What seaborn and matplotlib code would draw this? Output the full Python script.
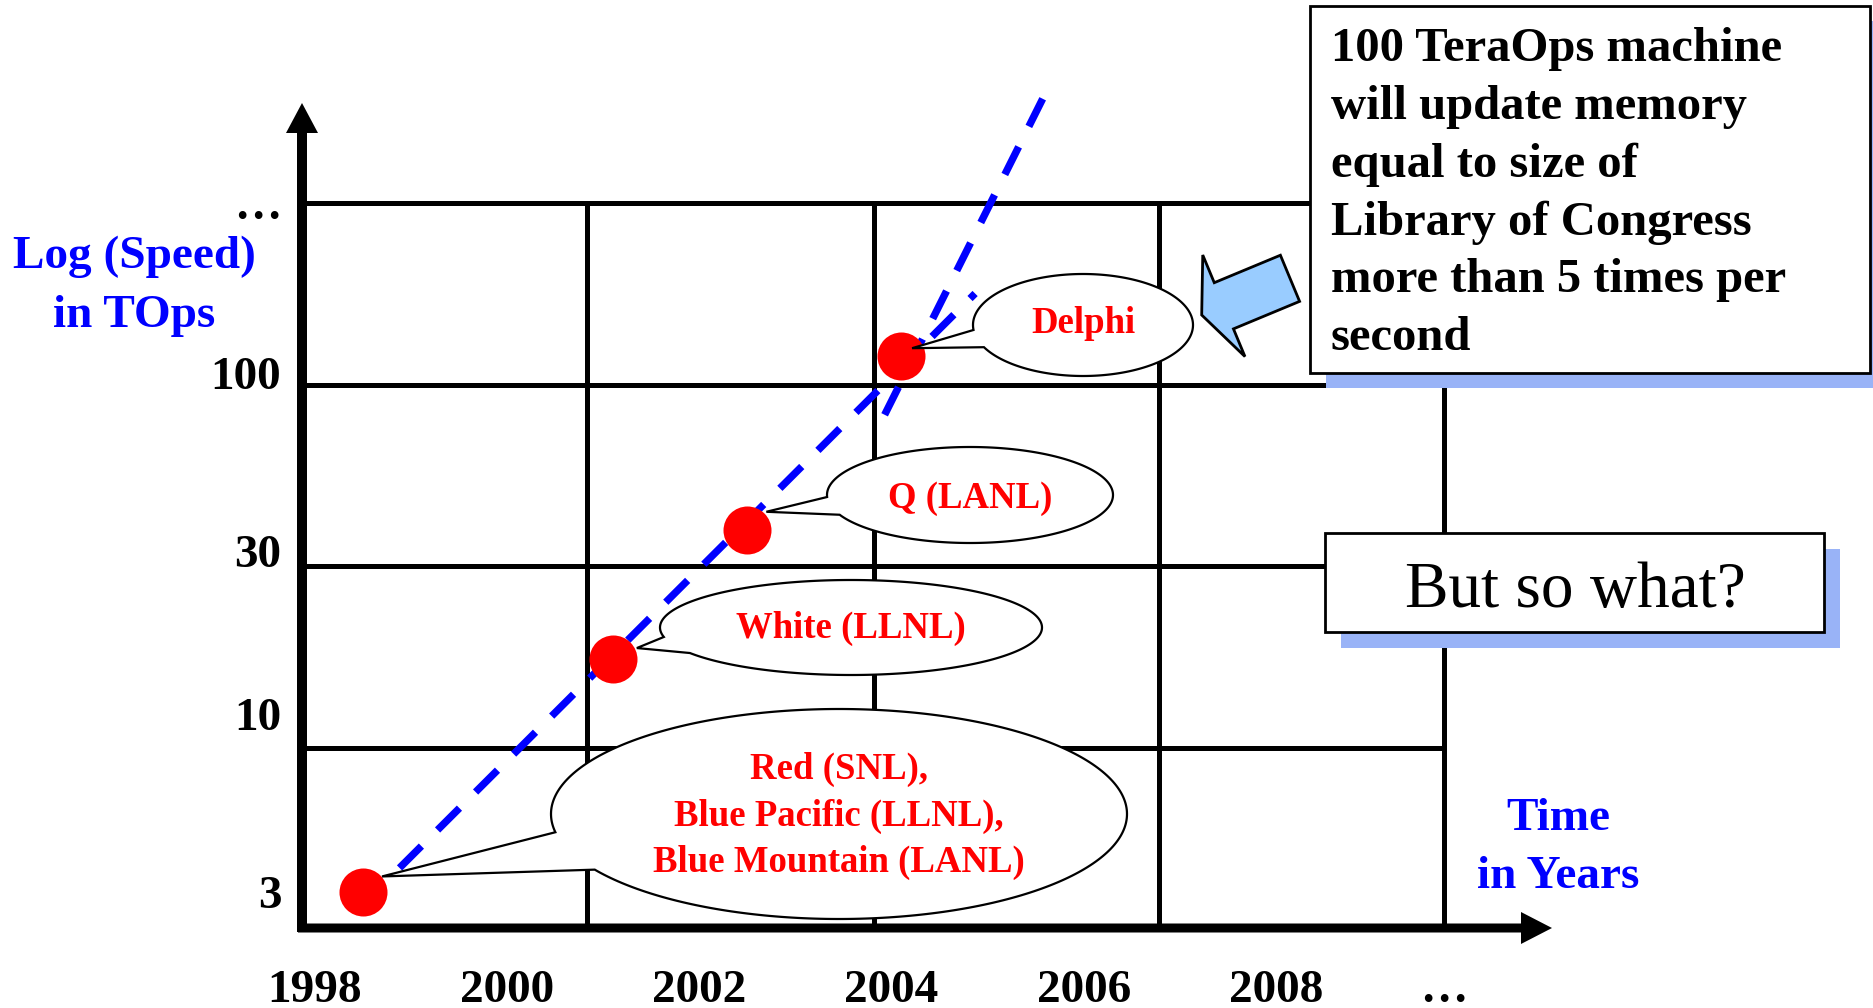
import numpy as np
import seaborn as sns
import matplotlib.pyplot as plt
from matplotlib import patches
from matplotlib.ticker import FixedLocator, NullFormatter

# machines: year vs speed (TOps)
machines = ["Red (SNL),\nBlue Pacific (LLNL),\nBlue Mountain (LANL)",
            "White (LLNL)", "Q (LANL)", "Delphi"]
years = [1998.5, 2001.1, 2002.5, 2004.1]
tops = [3.0, 14.5, 34.7, 112]

# dashed trend lines
trend_a_years = [1998.88, 2004.87]
trend_a_tops = [3.54, 171]
trend_b_years = [2003.86, 2005.58]
trend_b_tops = [69, 642]

year_ticks = [1998, 2000, 2002, 2004, 2006, 2008, 2009.75]
year_labels = ["1998", "2000", "2002", "2004", "2006", "2008", "…"]
speed_ticks = [3, 10, 30, 100, 315]
speed_labels = ["3", "10", "30", "100", "…"]

# cell borders of the hand drawn grid
grid_years = [2000.83, 2003.82, 2006.78]
grid_speeds = [7.94, 27.1, 92.2]

note_text = ("100 TeraOps machine\nwill update memory\nequal to size of\n"
             "Library of Congress\nmore than 5 times per\nsecond")

sns.set_theme(style="white")
plt.rcParams["font.family"] = ["Liberation Serif", "DejaVu Serif"]
plt.rcParams["text.color"] = "black"
plt.rcParams["xtick.color"] = "black"
plt.rcParams["ytick.color"] = "black"

W, H = 1874, 1008
fig = plt.figure(figsize=(W / 100, H / 100), dpi=100)
fig.patch.set_facecolor("white")
ax = fig.add_axes([302 / W, 80 / H, 1142 / W, 725 / H])

sns.lineplot(x=trend_a_years, y=trend_a_tops, ax=ax, color="#0000ff", lw=5.3,
             linestyle=(0, (4.2, 3.1)), zorder=3)
sns.lineplot(x=trend_b_years, y=trend_b_tops, ax=ax, color="#0000ff", lw=5.3,
             linestyle=(5.3, (4.2, 3.1)), zorder=3)
for ln in ax.lines:
    ln.set_clip_on(False)
    ln.set_dash_capstyle("butt")
sns.scatterplot(x=years, y=tops, ax=ax, s=1195, color="#ff0000", linewidth=0,
                zorder=5)

ax.set_yscale("log")
ax.set_xlim(1997.865, 2009.75)
ax.set_ylim(2.36, 312)

ax.set_xticks(year_ticks, labels=year_labels, fontsize=34, fontweight="bold",
              color="black")
ax.set_yticks(speed_ticks, labels=speed_labels, fontsize=34, fontweight="bold",
              color="black")
ax.xaxis.set_minor_locator(FixedLocator(grid_years))
ax.yaxis.set_minor_locator(FixedLocator(grid_speeds))
ax.xaxis.set_minor_formatter(NullFormatter())
ax.yaxis.set_minor_formatter(NullFormatter())
ax.tick_params(axis="both", which="both", length=0)
ax.tick_params(axis="x", pad=30)
ax.tick_params(axis="y", pad=15)
ax.grid(False, which="major")
ax.grid(True, which="minor", color="black", lw=3.6)

for side in ["top", "right"]:
    ax.spines[side].set_color("black")
    ax.spines[side].set_linewidth(3.6)
for side in ["left", "bottom"]:
    ax.spines[side].set_visible(False)

# baseline anchors refer to the last line of a multi-line text
ax.set_ylabel("Log (Speed)\nin TOps", rotation=0, color="#0000ff", fontsize=34,
              fontweight="bold", ha="center", va="baseline", linespacing=1.52)
ax.yaxis.set_label_coords(-0.147, (928 - 310) / 725)
ax.set_xlabel("Time\nin Years", color="#0000ff", fontsize=34, fontweight="bold",
              ha="center", va="baseline", linespacing=1.51)
ax.xaxis.set_label_coords(1.0998, (928 - 888) / 725)

# overlay in picture pixels (y down) for the slide decorations
ov = fig.add_axes([0, 0, 1, 1], zorder=10)
ov.set_xlim(0, W)
ov.set_ylim(H, 0)
ov.axis("off")
ov.patch.set_alpha(0)

# axis arrows
ov.add_patch(patches.FancyArrow(302, 932, 0, 103 - 932, width=10, head_width=32,
                                head_length=30, length_includes_head=True,
                                color="black", lw=0))
ov.add_patch(patches.FancyArrow(298, 928, 1552 - 298, 0, width=9, head_width=32,
                                head_length=31, length_includes_head=True,
                                color="black", lw=0))

# speech bubbles: centre, half axes, tail angles, tip offset from dot, last baseline
bubbles = [
    dict(c=(839, 814), a=288, b=105, t=(170, 148), off=(19, -16), base=872),
    dict(c=(851, 627.5), a=191, b=47.5, t=(168.5, 147.5), off=(24, -11), base=638),
    dict(c=(970, 495), a=143, b=48, t=(177.6, 155.7), off=(19, -18), base=508),
    dict(c=(1083, 325), a=110, b=51, t=(174.4, 154.2), off=(11, -8), base=333),
]
for name, yr, sp, bb in zip(machines, years, tops, bubbles):
    px, py = ax.transData.transform((yr, sp))
    tip = (px + bb["off"][0], H - py + bb["off"][1])
    cx, cy = bb["c"]
    t = np.radians(np.linspace(bb["t"][0], bb["t"][1] + 360, 300))
    pts = np.column_stack([cx + bb["a"] * np.cos(t), cy + bb["b"] * np.sin(t)])
    pts = np.vstack([pts, tip])
    ov.add_patch(patches.Polygon(pts, closed=True, fc="white", ec="black",
                                 lw=1.6, joinstyle="miter"))
    ov.text(cx, bb["base"], name, color="#ff0000", fontsize=26.5,
            fontweight="bold", ha="center", va="baseline", multialignment="center",
            linespacing=1.42)

# note box with shadow
ov.add_patch(patches.Rectangle((1326, 21), 560, 367, fc="#99b3f7", lw=0))
ov.add_patch(patches.Rectangle((1310, 6), 560, 367, fc="white", ec="black", lw=2))
ov.text(1331, 350, note_text, fontsize=35, fontweight="bold", color="black",
        ha="left", va="baseline", linespacing=1.40)

# "But so what?" box
ov.add_patch(patches.Rectangle((1341, 549), 499, 99, fc="#99b3f7", lw=0))
ov.add_patch(patches.Rectangle((1325, 533), 499, 99, fc="white", ec="black", lw=2))
ov.text(1575, 607, "But so what?", fontsize=47, color="black",
        ha="center", va="baseline")

# block arrow pointing at the bubble
ov.add_patch(patches.FancyArrow(1290, 278.3, -88.3, 36.7, width=50, head_width=110,
                                head_length=24, length_includes_head=True,
                                fc="#99ccff", ec="black", lw=2))

fig.savefig("out.png", dpi=100)
